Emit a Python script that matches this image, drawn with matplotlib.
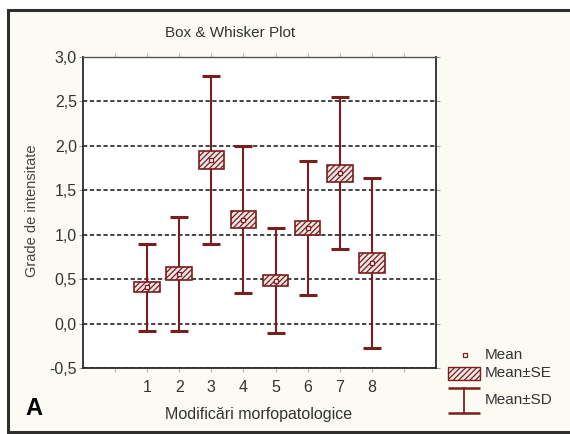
import matplotlib
matplotlib.use("Agg")
import matplotlib.pyplot as plt
from matplotlib.patches import Rectangle
from matplotlib.ticker import FuncFormatter, FixedLocator
import numpy as np

plt.rcParams['font.family'] = ['Liberation Sans', 'DejaVu Sans']
plt.rcParams['hatch.linewidth'] = 0.9

# ---- data ----
categories = ["1", "2", "3", "4", "5", "6", "7", "8"]
means = [0.41, 0.56, 1.84, 1.17, 0.48, 1.075, 1.69, 0.68]
se = [0.06, 0.075, 0.10, 0.095, 0.062, 0.077, 0.094, 0.11]
sd = [0.49, 0.64, 0.95, 0.83, 0.59, 0.75, 0.855, 0.96]
yticks = [-0.5, 0.0, 0.5, 1.0, 1.5, 2.0, 2.5, 3.0]

title = "Box & Whisker Plot"
ylabel = "Grade de intensitate"
xlabel = "Modificări morfopatologice"
legend_labels = ["Mean", "Mean±SE", "Mean±SD"]

MAROON = "#7a1e1e"
W, H = 570, 434

fig = plt.figure(figsize=(W / 100, H / 100), dpi=100, facecolor="white")

# outer frame
fig.patches.append(Rectangle((8 / W, 2 / H), 1.2, (H - 12) / H, transform=fig.transFigure,
                             facecolor="#fcfbf3", edgecolor="#2e2e2e", linewidth=2.2, zorder=-10))

ax = fig.add_axes([83 / W, 1 - 368 / H, (436 - 83) / W, (368 - 57) / H])
ax.set_zorder(2)
ax.set_facecolor("white")

x = np.arange(1, len(categories) + 1)
m = np.array(means)
s = np.array(se)
d = np.array(sd)

ax.errorbar(x, m, yerr=d, fmt='none', ecolor=MAROON, elinewidth=1.5,
            capsize=6.5, capthick=2.2, zorder=3)
plt.rcParams['hatch.color'] = "#5a1a1a"
ax.bar(x, 2 * s, bottom=m - s, width=0.8, facecolor="#efe6e6", edgecolor=MAROON,
       linewidth=1.2, hatch="//////", zorder=4)
ax.plot(x, m, linestyle='none', marker='s', markersize=3.5, markerfacecolor="white",
        markeredgecolor=MAROON, markeredgewidth=0.9, zorder=5)

ax.set_xlim(-1, 10)
ax.set_ylim(-0.5, 3.0)
ax.set_yticks(yticks)
ax.yaxis.set_major_formatter(FuncFormatter(lambda v, p: f"{v:.1f}".replace('.', ',')))
ax.set_xticks(x)
ax.set_xticklabels(categories)
ax.xaxis.set_minor_locator(FixedLocator([0, 9]))

ax.grid(axis='y', color="#444444", linestyle=(0, (2.2, 1.3)), linewidth=1.4, zorder=1)
ax.set_axisbelow(True)

ax.tick_params(axis='y', which='both', direction='out', length=3, width=0.8, color="#999999",
               labelsize=11.5, labelcolor="#333333", pad=1.5, right=True)
ax.tick_params(axis='x', which='both', direction='out', length=3, width=0.8, color="#bbbbbb",
               labelsize=11.5, labelcolor="#333333", pad=6, top=True)
for side in ['left', 'bottom', 'right']:
    ax.spines[side].set_color("#2a2a2a")
    ax.spines[side].set_linewidth(1.3)
ax.spines['top'].set_color("#555555")
ax.spines['top'].set_linewidth(1.0)

fig.text(230 / W, 1 - 33 / H, title, ha='center', va='center', fontsize=11, color="#333333")
fig.text(32 / W, 1 - 211 / H, ylabel, ha='center', va='center', rotation=90,
         fontsize=10.5, color="#444444")
fig.text(259 / W, 1 - 415 / H, xlabel, ha='center', va='center', fontsize=11.5, color="#333333")
fig.text(34 / W, 1 - 408.5 / H, "A", ha='center', va='center', fontsize=17,
         fontweight='bold', color="black")

# legend (drawn in pixel-unit inset axes)
lax = fig.add_axes([440 / W, 1 - 420 / H, 125 / W, 80 / H])
lax.set_zorder(2)
lax.set_xlim(440, 565)
lax.set_ylim(420, 340)
lax.axis('off')
lax.plot([465], [355], marker='s', markersize=3.5, markerfacecolor="white",
         markeredgecolor=MAROON, markeredgewidth=0.9, linestyle='none')
lax.add_patch(Rectangle((448, 367), 32, 13, facecolor="#efe6e6", edgecolor=MAROON,
                        linewidth=1.0, hatch="//////"))
lax.plot([448, 480], [388, 388], color=MAROON, linewidth=1.8, solid_capstyle='butt')
lax.plot([448, 480], [413, 413], color=MAROON, linewidth=1.8, solid_capstyle='butt')
lax.plot([464, 464], [388, 413], color=MAROON, linewidth=1.3)
for yy, lab in zip([355, 373, 400], legend_labels):
    lax.text(485, yy, lab, ha='left', va='center', fontsize=11, color="#333333")

fig.savefig("out.png", dpi=100, facecolor=fig.get_facecolor())
